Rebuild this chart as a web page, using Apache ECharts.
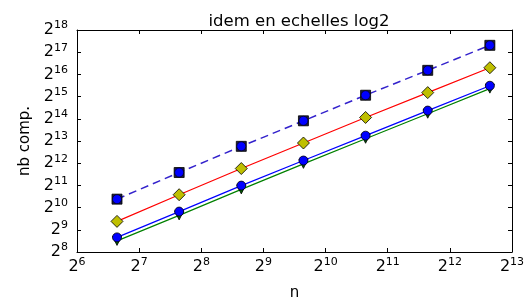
<!DOCTYPE html>
<html>
<head>
<meta charset="utf-8">
<script src="https://cdn.jsdelivr.net/npm/echarts@6/dist/echarts.min.js"></script>
<style>
html,body{margin:0;padding:0;background:#fff;}
#c{width:527px;height:300px;}
</style>
</head>
<body>
<div id="c"></div>
<script>
// Data (n, comparison counts)
const nValues = [100, 200, 400, 800, 1600, 3200, 6400];
const dashedValues = [1333, 3061, 6936, 15390, 34200, 74400, 162500];
const redValues = [666, 1531, 3468, 7695, 17080, 37100, 80700];
const blueValues = [404, 904, 2034, 4451, 9673, 21170, 46000];
const greenValues = [362, 803, 1808, 4011, 8780, 19210, 42030];
const xRange = [64, 8192];      // 2^6 .. 2^13
const yRange = [256, 262144];   // 2^8 .. 2^18

const FONT = 'DejaVu Sans';
const pairs = arr => nValues.map((n, i) => [n, arr[i]]);
const powFmt = v => '{b|2}{s|' + Math.round(Math.log2(v)) + '}';
const richStyle = {
  b: {fontSize: 16, fontFamily: FONT, color: '#000', lineHeight: 20},
  s: {fontSize: 11, fontFamily: FONT, color: '#000', lineHeight: 8, verticalAlign: 'top'}
};

const chart = echarts.init(document.getElementById('c'), null, {renderer: 'canvas'});
const baseAxis = {
  type: 'log', logBase: 2, interval: 1,
  axisLine: {show: true, onZero: false, lineStyle: {color: '#000', width: 1}},
  axisTick: {show: true, inside: true, length: 4, lineStyle: {color: '#000', width: 1}},
  splitLine: {show: false},
  minorTick: {show: false}
};
chart.setOption({
  animation: false,
  backgroundColor: '#fff',
  title: {
    text: 'idem en echelles log2', left: 294, top: 8, textAlign: 'center',
    textStyle: {fontFamily: FONT, fontSize: 16.5, fontWeight: 'normal', color: '#000'}
  },
  grid: {left: 77, right: 15, top: 30, bottom: 48, containLabel: false, outerBoundsMode: 'none'},
  xAxis: [
    Object.assign({}, baseAxis, {
      position: 'bottom', min: xRange[0], max: xRange[1],
      name: 'n', nameLocation: 'middle', nameGap: 34,
      nameTextStyle: {fontFamily: FONT, fontSize: 15, color: '#000'},
      axisLabel: {show: true, margin: 5, formatter: powFmt, rich: richStyle, hideOverlap: false, showMinLabel: true, showMaxLabel: true}
    }),
    Object.assign({}, baseAxis, {
      position: 'top', min: xRange[0], max: xRange[1],
      axisLabel: {show: false}
    })
  ],
  yAxis: [
    Object.assign({}, baseAxis, {
      position: 'left', min: yRange[0], max: yRange[1],
      name: 'nb comp.', nameLocation: 'middle', nameGap: 41, nameRotate: 90,
      nameTextStyle: {fontFamily: FONT, fontSize: 15, color: '#000'},
      axisLabel: {show: true, margin: 9, formatter: powFmt, rich: richStyle, hideOverlap: false, showMinLabel: true, showMaxLabel: true}
    }),
    Object.assign({}, baseAxis, {
      position: 'right', min: yRange[0], max: yRange[1],
      axisLabel: {show: false}
    })
  ],
  series: [
    {type: 'line', data: pairs(greenValues), z: 2, symbol: 'triangle', symbolRotate: 180, symbolSize: 9,
     lineStyle: {color: '#008000', width: 1.2}, itemStyle: {color: '#006400', borderColor: '#000', borderWidth: 0.8}},
    {type: 'line', data: pairs(blueValues), z: 3, symbol: 'circle', symbolSize: 9,
     lineStyle: {color: '#0000ff', width: 1.2}, itemStyle: {color: '#0000ff', borderColor: '#000', borderWidth: 0.8}},
    {type: 'line', data: pairs(redValues), z: 4, symbol: 'diamond', symbolSize: [12, 12],
     lineStyle: {color: '#ff0000', width: 1.2}, itemStyle: {color: '#bfbf00', borderColor: '#000', borderWidth: 0.8}},
    {type: 'line', data: pairs(dashedValues), z: 5, symbol: 'rect', symbolSize: 10,
     lineStyle: {color: '#3322cc', width: 1.5, type: [8, 5]}, itemStyle: {color: '#1a1a40', borderColor: '#000', borderWidth: 0.8}},
    {type: 'scatter', data: pairs(dashedValues), z: 6, symbol: 'circle', symbolSize: 9,
     itemStyle: {color: '#0000ff', borderColor: '#000', borderWidth: 0.6, opacity: 1}}
  ]
});
</script>
</body>
</html>
